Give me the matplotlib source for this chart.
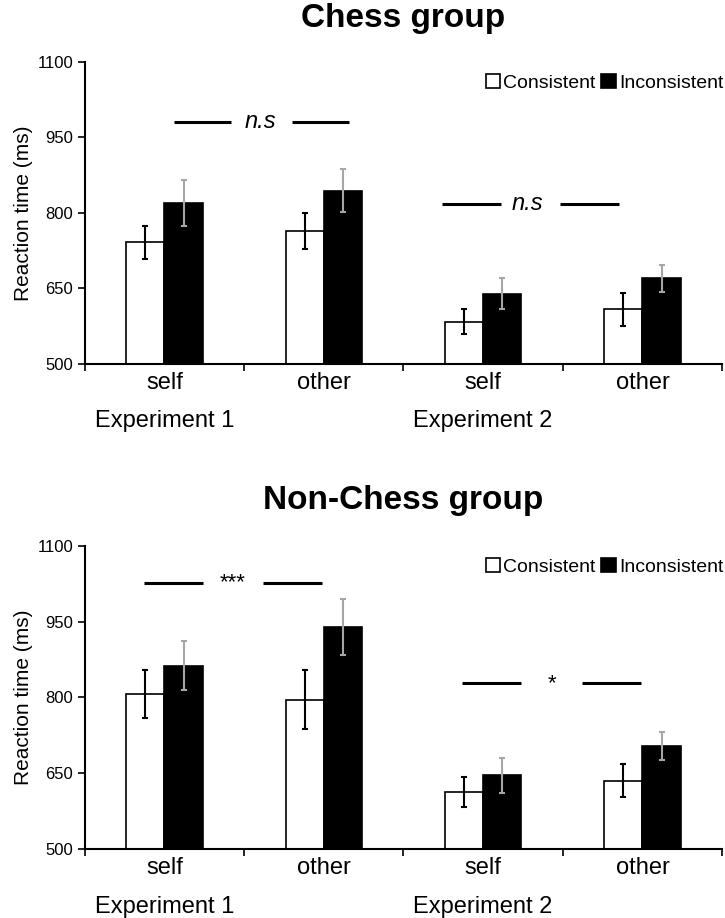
import matplotlib.pyplot as plt
import numpy as np

plt.rcParams['font.family'] = ['Liberation Sans', 'DejaVu Sans']

conditions = ['self', 'other', 'self', 'other']
experiments = ['Experiment 1', 'Experiment 2']
yticks = [500, 650, 800, 950, 1100]

# chess group
chess_cons = [742, 764, 584, 609]
chess_cons_err = [33, 35, 25, 33]
chess_incons = [820, 844, 640, 670]
chess_incons_err = [45, 43, 30, 27]

# non-chess group
non_cons = [807, 796, 613, 635]
non_cons_err = [48, 58, 30, 33]
non_incons = [863, 940, 646, 704]
non_incons_err = [48, 56, 35, 28]

# significance markers: (left line x0, x1, text x, right line x0, x1, y, text, italic)
chess_sig = [(0.56, 0.92, 1.105, 1.30, 1.66, 981, 'n.s', True),
             (2.24, 2.61, 2.78, 2.98, 3.35, 818, 'n.s', True)]
non_sig = [(0.37, 0.74, 0.93, 1.12, 1.49, 1027, '***', False),
           (2.37, 2.74, 2.93, 3.12, 3.49, 828, '*', False)]

W = 0.24
x = np.arange(4) + 0.5

fig = plt.figure(figsize=(7.25, 9.18), dpi=100)


def panel(ax, title, title_y, cons, cons_err, incons, incons_err, sig):
    ax.bar(x - W / 2, cons, W, color='white', edgecolor='black', linewidth=1.2,
           label='Consistent', zorder=2)
    ax.bar(x + W / 2, incons, W, color='black', edgecolor='black', linewidth=1.2,
           label='Inconsistent', zorder=2)
    ax.errorbar(x - W / 2, cons, yerr=cons_err, fmt='none', ecolor='black',
                elinewidth=1.5, capsize=2.5, capthick=1.5, zorder=3)
    ax.errorbar(x + W / 2, incons, yerr=incons_err, fmt='none', ecolor='#a6a6a6',
                elinewidth=1.5, capsize=2.5, capthick=1.5, zorder=3)

    ax.set_xlim(0, 4)
    ax.set_ylim(500, 1100)
    ax.set_yticks(yticks)
    ax.tick_params(axis='y', labelsize=12, length=5, width=1.2, direction='out')
    ax.set_xticks([0, 1, 2, 3, 4])
    ax.set_xticklabels([])
    ax.set_xticks(x, minor=True)
    ax.set_xticklabels(conditions, minor=True, fontsize=17)
    ax.tick_params(axis='x', which='major', length=5, width=1.2, direction='out')
    ax.tick_params(axis='x', which='minor', length=0, pad=6)
    for s in ['top', 'right']:
        ax.spines[s].set_visible(False)
    for s in ['left', 'bottom']:
        ax.spines[s].set_linewidth(1.5)
    ax.set_ylabel('Reaction time (ms)', fontsize=15, labelpad=3)
    fig.text(0.117 + 0.879 / 2, title_y, title, ha='center', va='center',
             fontsize=24, fontweight='bold')

    for i, name in enumerate(experiments):
        ax.text(x[2 * i], -0.19, name, transform=ax.get_xaxis_transform(),
                ha='center', va='center', fontsize=17)

    for a0, a1, tx, b0, b1, y, label, ital in sig:
        ax.plot([a0, a1], [y, y], color='black', linewidth=2.2, solid_capstyle='butt')
        ax.plot([b0, b1], [y, y], color='black', linewidth=2.2, solid_capstyle='butt')
        ax.text(tx, y, label, ha='center', va='center',
                fontsize=17 if ital else 16, style='italic' if ital else 'normal')

    ax.legend(loc='upper right', bbox_to_anchor=(1.02, 1.0), ncol=2, frameon=False,
              fontsize=14, handlelength=0.75, handleheight=0.75, handletextpad=0.15,
              columnspacing=0.3, borderaxespad=0.2)


ax1 = fig.add_axes([0.117, 0.6035, 0.879, 0.329])
panel(ax1, 'Chess group', 0.980, chess_cons, chess_cons_err, chess_incons, chess_incons_err,
      chess_sig)
ax2 = fig.add_axes([0.117, 0.0752, 0.879, 0.330])
panel(ax2, 'Non-Chess group', 0.455, non_cons, non_cons_err, non_incons, non_incons_err,
      non_sig)

fig.savefig('out.png', dpi=100)
